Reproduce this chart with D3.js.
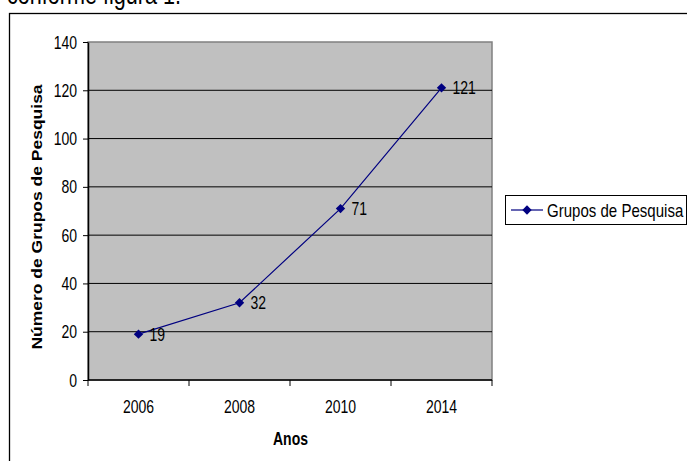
<!DOCTYPE html>
<html>
<head>
<meta charset="utf-8">
<script src="https://cdn.jsdelivr.net/npm/d3@7"></script>
<style>
  body { margin: 0; background: #fff; }
  svg { display: block; font-family: "Liberation Sans", Arial, sans-serif; }
</style>
</head>
<body>
<div id="chart"></div>
<script>
const years = ["2006", "2008", "2010", "2014"]
const grupos = [19, 32, 71, 121]
const yTicks = [0, 20, 40, 60, 80, 100, 120, 140]
const seriesName = "Grupos de Pesquisa"

const width = 687
const height = 461
const marginLeft = 88      // plot area left edge
const plotRight = 492      // plot area right edge
const plotTop = 42
const plotBottom = 380
const lineColor = "#000080"
const fontSize = 17.5       // text in the picture is squeezed sideways
const squeeze = 0.8

const svg = d3.select("#chart")
    .append("svg")
    .attr("width", width)
    .attr("height", height)
    .attr("viewBox", [0, 0, width, height])

// put a text at x,y and squeeze it horizontally
const placeText = (sel, x, y, sx = squeeze) => sel
    .attr("x", 0)
    .attr("y", 0)
    .attr("transform", `translate(${x},${y}) scale(${sx},1)`)

// text cut from the page above
svg.append("text")
    .attr("font-size", 27)
    .attr("fill", "#000")
    .text("conforme figura 1.")
    .call(placeText, 7, 4)

// outer chart frame
svg.append("rect")
    .attr("x", 9.5)
    .attr("y", 13.5)
    .attr("width", 700)
    .attr("height", 470)
    .attr("fill", "#fff")
    .attr("stroke", "#000")
    .attr("stroke-width", 1.3)

const x = d3.scaleBand(years, [marginLeft, plotRight]).padding(0)
const y = d3.scaleLinear([0, 140], [plotBottom, plotTop])

// plot background
svg.append("rect")
    .attr("x", marginLeft)
    .attr("y", plotTop)
    .attr("width", plotRight - marginLeft)
    .attr("height", plotBottom - plotTop)
    .attr("fill", "#c0c0c0")
    .attr("stroke", "#808080")
    .attr("stroke-width", 1.5)

// gridlines
svg.append("g")
    .selectAll("line")
    .data(yTicks.filter(d => d > 0 && d < 140))
    .join("line")
    .attr("x1", marginLeft)
    .attr("x2", plotRight)
    .attr("y1", d => y(d))
    .attr("y2", d => y(d))
    .attr("stroke", "#000")
    .attr("stroke-width", 1)

// y axis
svg.append("g")
    .attr("transform", `translate(${marginLeft},0)`)
    .call(d3.axisLeft(y).tickValues(yTicks).tickSize(5).tickSizeOuter(0))
    .call(g => g.select(".domain").attr("stroke-width", 1.5))
    .call(g => g.selectAll(".tick text")
        .attr("font-size", fontSize)
        .attr("font-family", "Liberation Sans, Arial, sans-serif")
        .attr("fill", "#000")
        .attr("dy", null)
        .attr("dominant-baseline", "central")
        .attr("x", null)
        .attr("transform", `translate(-11,0) scale(${squeeze},1)`))

// x axis, ticks at band boundaries
const xAxisG = svg.append("g")
    .attr("transform", `translate(0,${plotBottom})`)
xAxisG.append("line")
    .attr("x1", marginLeft)
    .attr("x2", plotRight)
    .attr("stroke", "#000")
    .attr("stroke-width", 1.5)
xAxisG.selectAll(".tk")
    .data(years.map(d => x(d)).concat([plotRight]))
    .join("line")
    .attr("class", "tk")
    .attr("x1", d => d)
    .attr("x2", d => d)
    .attr("y1", 0)
    .attr("y2", 6)
    .attr("stroke", "#000")
xAxisG.selectAll("text")
    .data(years)
    .join("text")
    .attr("text-anchor", "middle")
    .attr("font-size", fontSize)
    .text(d => d)
    .each(function (d) {
        d3.select(this).call(placeText, x(d) + x.bandwidth() / 2, 32.5)
    })

// axis titles
svg.append("text")
    .attr("text-anchor", "middle")
    .attr("font-size", fontSize)
    .attr("font-weight", "bold")
    .text("Anos")
    .call(placeText, 290.5, 445)

svg.append("text")
    .attr("text-anchor", "middle")
    .attr("font-size", fontSize)
    .attr("font-weight", "bold")
    .attr("transform", `translate(42,${(81 + 353) / 2}) scale(${squeeze},1) rotate(-90)`)
    .text("Número de Grupos de Pesquisa")

// line
const cx = (d, i) => x(years[i]) + x.bandwidth() / 2
svg.append("path")
    .datum(grupos)
    .attr("fill", "none")
    .attr("stroke", lineColor)
    .attr("stroke-width", 1.2)
    .attr("d", d3.line().x(cx).y(d => y(d)))

const diamond = d3.symbol(d3.symbolDiamond2, 56)
svg.append("g")
    .selectAll("path")
    .data(grupos)
    .join("path")
    .attr("transform", (d, i) => `translate(${cx(d, i)},${y(d)})`)
    .attr("d", diamond)
    .attr("fill", lineColor)

// data labels
svg.append("g")
    .selectAll("text")
    .data(grupos)
    .join("text")
    .attr("font-size", fontSize)
    .text(d => d)
    .each(function (d, i) {
        d3.select(this).call(placeText, cx(d, i) + 11, y(d) + 6.5)
    })

// legend
const legend = svg.append("g")
legend.append("rect")
    .attr("x", 505.5)
    .attr("y", 195.5)
    .attr("width", 181)
    .attr("height", 29)
    .attr("fill", "#fff")
    .attr("stroke", "#000")
    .attr("stroke-width", 1)
legend.append("line")
    .attr("x1", 511)
    .attr("x2", 543)
    .attr("y1", 210)
    .attr("y2", 210)
    .attr("stroke", lineColor)
    .attr("stroke-width", 1.2)
legend.append("path")
    .attr("transform", "translate(527,210)")
    .attr("d", diamond)
    .attr("fill", lineColor)
legend.append("text")
    .attr("font-size", fontSize)
    .text(seriesName)
    .call(placeText, 547, 216.5, 0.86)
</script>
</body>
</html>
